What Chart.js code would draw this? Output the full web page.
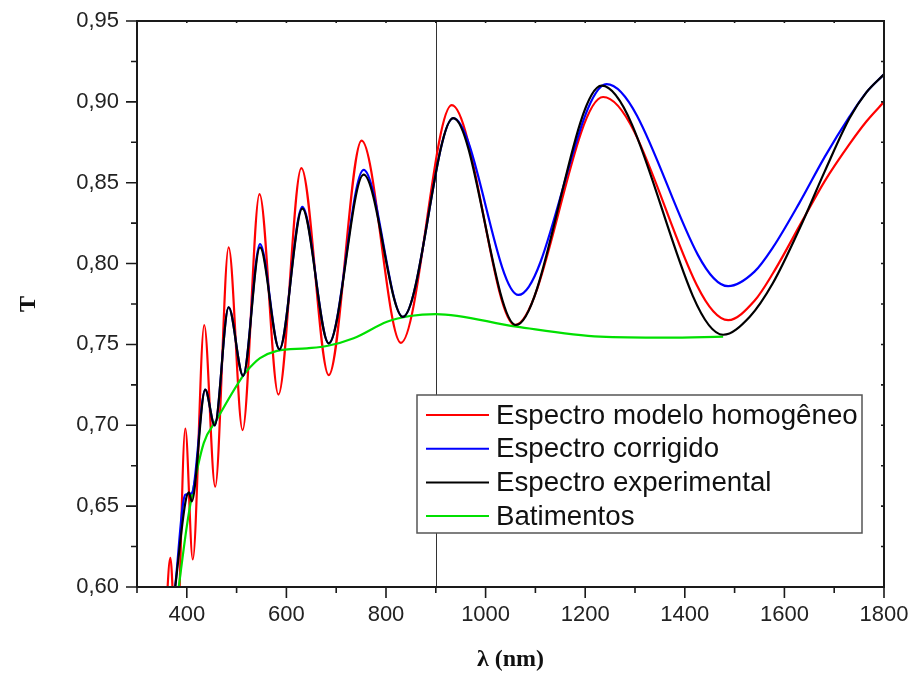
<!DOCTYPE html>
<html>
<head>
<meta charset="utf-8">
<script src="https://cdn.jsdelivr.net/npm/chart.js@4"></script>
<style>
  html, body { margin: 0; padding: 0; background: #fff; }
  canvas { display: block; }
</style>
</head>
<body>
<canvas id="chart" width="909" height="675"></canvas>
<script>
// values (wavelength in nm, transmittance T)
const redX = [356, 367, 379, 397, 412, 435, 457, 484, 512, 546, 584, 630, 685, 751, 830, 932, 1059, 1236, 1487, 1540, 1577, 1637, 1681, 1731, 1765, 1800];
const redY = [0.570, 0.618, 0.555, 0.698, 0.617, 0.762, 0.662, 0.810, 0.697, 0.843, 0.719, 0.859, 0.731, 0.876, 0.751, 0.898, 0.762, 0.903, 0.765, 0.777, 0.794, 0.827, 0.851, 0.874, 0.888, 0.900];

const blueX = [376, 397, 410, 437, 456, 484, 513, 547, 586, 632, 685, 755, 834, 935, 1066, 1243, 1487, 1540, 1577, 1631, 1681, 1731, 1765, 1800];
const blueY = [0.598, 0.657, 0.658, 0.722, 0.700, 0.773, 0.7306, 0.812, 0.747, 0.835, 0.7507, 0.858, 0.767, 0.890, 0.7806, 0.911, 0.786, 0.795, 0.810, 0.838, 0.866, 0.891, 0.906, 0.917];

const blackX = [376, 397, 404, 410, 437, 456, 484, 513, 547, 586, 632, 685, 755, 834, 935, 1061, 1233, 1477, 1530, 1577, 1631, 1681, 1731, 1765, 1800];
const blackY = [0.598, 0.652, 0.6585, 0.653, 0.722, 0.700, 0.773, 0.7306, 0.810, 0.747, 0.834, 0.7507, 0.855, 0.767, 0.890, 0.762, 0.910, 0.756, 0.767, 0.788, 0.822, 0.857, 0.890, 0.906, 0.917];

const greenX = [383, 400, 410, 434, 460, 514, 534, 547, 581, 641, 681, 735, 802, 848, 900, 1062, 1230, 1363, 1477];
const greenY = [0.598, 0.6375, 0.656, 0.689, 0.7034, 0.731, 0.738, 0.7415, 0.746, 0.7476, 0.749, 0.7538, 0.764, 0.7676, 0.7688, 0.761, 0.7548, 0.7542, 0.7548];

const seriesNames = ['Espectro modelo homogêneo', 'Espectro corrigido', 'Espectro experimental', 'Batimentos'];
const seriesColors = ['#ff0000', '#0000ff', '#000000', '#00e000'];
const drawOrder = [3, 1, 0, 2];

const xTicks = [400, 600, 800, 1000, 1200, 1400, 1600, 1800];
const yTicks = [0.60, 0.65, 0.70, 0.75, 0.80, 0.85, 0.90, 0.95];
const markerX = 900;

function toPoints(xs, ys) {
    return xs.map((x, i) => ({x: x, y: ys[i]}));
}

const seriesData = [toPoints(redX, redY), toPoints(blueX, blueY), toPoints(blackX, blackY), toPoints(greenX, greenY)];

/**
 * Frame, tick marks, marker line and the boxed legend inside the plot.
 */
const framePlugin = {
    id: 'frame',
    beforeDatasetsDraw(chart) {
        const {ctx, chartArea: a, scales: {x}} = chart;
        const px = Math.round(x.getPixelForValue(markerX)) + 0.5;
        ctx.save();
        ctx.strokeStyle = '#333';
        ctx.lineWidth = 1;
        ctx.beginPath();
        ctx.moveTo(px, a.top);
        ctx.lineTo(px, a.bottom);
        ctx.stroke();
        ctx.restore();
    },
    afterDraw(chart) {
        const {ctx, chartArea: a, scales: {x, y}} = chart;
        ctx.save();
        ctx.strokeStyle = '#1a1a1a';
        ctx.lineWidth = 1.6;

        // ticks on bottom / top
        for (let v = 300; v <= 1800; v += 100) {
            const px = x.getPixelForValue(v);
            const major = xTicks.includes(v);
            ctx.beginPath();
            ctx.moveTo(px, a.bottom);
            ctx.lineTo(px, a.bottom + (major ? 11 : 6));
            ctx.moveTo(px, a.top);
            ctx.lineTo(px, a.top + 2);
            ctx.stroke();
        }
        // ticks on left / right
        for (let i = 0; i < yTicks.length; i++) {
            const vals = [yTicks[i]];
            if (i < yTicks.length - 1) vals.push((yTicks[i] + yTicks[i + 1]) / 2);
            vals.forEach((v, k) => {
                const py = y.getPixelForValue(v);
                ctx.beginPath();
                ctx.moveTo(a.left, py);
                ctx.lineTo(a.left - (k === 0 ? 11 : 6), py);
                ctx.moveTo(a.right, py);
                ctx.lineTo(a.right - 3, py);
                ctx.stroke();
            });
        }

        // box
        ctx.lineWidth = 2;
        ctx.strokeRect(a.left, a.top, a.right - a.left, a.bottom - a.top);

        // legend
        const box = {left: 417, top: 395, width: 445, height: 138};
        ctx.fillStyle = '#fff';
        ctx.fillRect(box.left, box.top, box.width, box.height);
        ctx.strokeStyle = '#555';
        ctx.lineWidth = 1.5;
        ctx.strokeRect(box.left, box.top, box.width, box.height);
        ctx.font = '27.7px "Liberation Sans", Arial, sans-serif';
        ctx.textBaseline = 'middle';
        ctx.fillStyle = '#111';
        seriesNames.forEach((name, i) => {
            const ry = box.top + 20 + i * 33.7;
            ctx.strokeStyle = seriesColors[i];
            ctx.lineWidth = 2;
            ctx.beginPath();
            ctx.moveTo(box.left + 9, ry);
            ctx.lineTo(box.left + 72, ry);
            ctx.stroke();
            ctx.fillText(name, box.left + 79, ry + 1);
        });
        ctx.restore();
    }
};

new Chart(document.getElementById('chart').getContext('2d'), {
    type: 'line',
    data: {
        datasets: seriesNames.map((name, i) => ({
            label: name,
            data: seriesData[i],
            borderColor: seriesColors[i],
            borderWidth: 2.2,
            pointRadius: 0,
            fill: false,
            cubicInterpolationMode: 'monotone',
            order: drawOrder[i]
        }))
    },
    options: {
        responsive: false,
        animation: false,
        layout: {
            padding: {top: 21, right: 25, left: 0, bottom: 0}
        },
        plugins: {
            legend: {display: false},
            tooltip: {enabled: false}
        },
        scales: {
            x: {
                type: 'linear',
                min: 300,
                max: 1800,
                afterFit: (s) => { s.height = 88; s.paddingLeft = 0; s.paddingRight = 0; },
                afterBuildTicks: (s) => { s.ticks = xTicks.map(v => ({value: v})); },
                grid: {display: false, drawTicks: false},
                border: {display: false},
                ticks: {
                    padding: 15,
                    color: '#222',
                    maxRotation: 0,
                    font: {family: 'Liberation Sans', size: 22},
                    callback: (v) => String(v)
                },
                title: {
                    display: true,
                    text: 'λ (nm)',
                    color: '#111',
                    font: {family: 'Liberation Serif', size: 24, weight: 'bold'},
                    padding: {top: 0, bottom: 1}
                }
            },
            y: {
                min: 0.60,
                max: 0.95,
                afterFit: (s) => { s.width = 137; s.paddingTop = 0; s.paddingBottom = 0; },
                afterBuildTicks: (s) => { s.ticks = yTicks.map(v => ({value: v})); },
                grid: {display: false, drawTicks: false},
                border: {display: false},
                ticks: {
                    padding: 18,
                    color: '#222',
                    font: {family: 'Liberation Sans', size: 22},
                    callback: (v) => v.toFixed(2).replace('.', ',')
                },
                title: {
                    display: true,
                    text: 'T',
                    color: '#111',
                    font: {family: 'Liberation Serif', size: 24, weight: 'bold'},
                    padding: {top: 14, bottom: 0}
                }
            }
        }
    },
    plugins: [framePlugin]
});
</script>
</body>
</html>
